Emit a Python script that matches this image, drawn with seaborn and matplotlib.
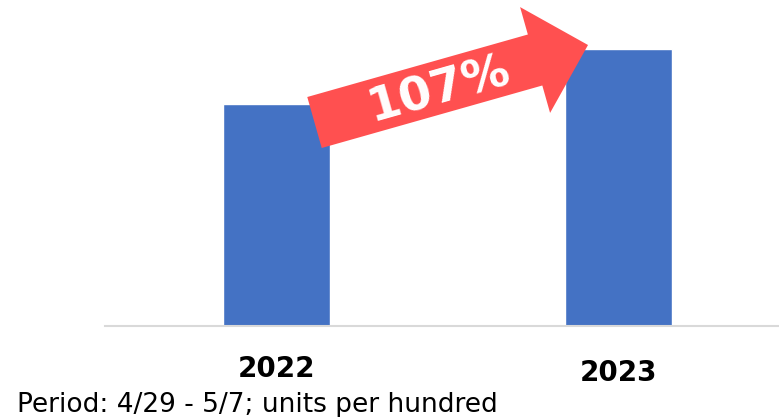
import pandas as pd
import numpy as np
import matplotlib.pyplot as plt
import seaborn as sns
from matplotlib.patches import FancyArrow

# dados
anos = ['2022', '2023']
valores = [100, 107]
crescimento = '107%'
nota = 'Period: 4/29 - 5/7; units per hundred'

df = pd.DataFrame({'ano': anos, 'valor': valores})

sns.set_theme(style='white')
plt.rcParams['font.family'] = ['DejaVu Sans']

fig = plt.figure(figsize=(7.79, 4.17), dpi=100)
ax = fig.add_axes([105/779, 91/417, 674/779, 326/417])

sns.barplot(data=df, x='ano', y='valor', color='#4472C4', saturation=1, width=0.313, ax=ax)

ax.set_xlim(-0.502, 1.471)
ax.set_ylim(71.7, 113.25)
sns.despine(ax=ax, left=True)
ax.spines['bottom'].set_color('#D9D9D9')
ax.spines['bottom'].set_linewidth(1.5)
ax.set_yticks([])
ax.set_xticks([])
ax.set_xlabel('')
ax.set_ylabel('')

# rótulos dos anos (2023 um pouco mais baixo, como no original)
deslocamentos = [-43, -47]
for i, (ano, d) in enumerate(zip(anos, deslocamentos)):
    ax.annotate(ano, xy=(i, 0), xycoords=('data', 'axes fraction'),
                xytext=(0, d * 0.72), textcoords='offset points',
                ha='center', va='center', fontsize=20, fontweight='bold', color='black')

# seta de crescimento (em polegadas da figura)
seta = FancyArrow(3.145, 2.945, 2.735, 0.775, width=0.53, head_width=1.10, head_length=0.55,
                  length_includes_head=True, color='#FF5050', linewidth=0,
                  transform=fig.dpi_scale_trans)
fig.patches.append(seta)
fig.text(4.39, 3.27, crescimento, transform=fig.dpi_scale_trans, rotation=15.8,
         rotation_mode='anchor', ha='center', va='center', fontsize=34,
         fontweight='bold', color='white')

fig.text(17/779, 5/417, nota, ha='left', va='baseline', fontsize=19, color='black')

plt.savefig('out.png', dpi=100)
